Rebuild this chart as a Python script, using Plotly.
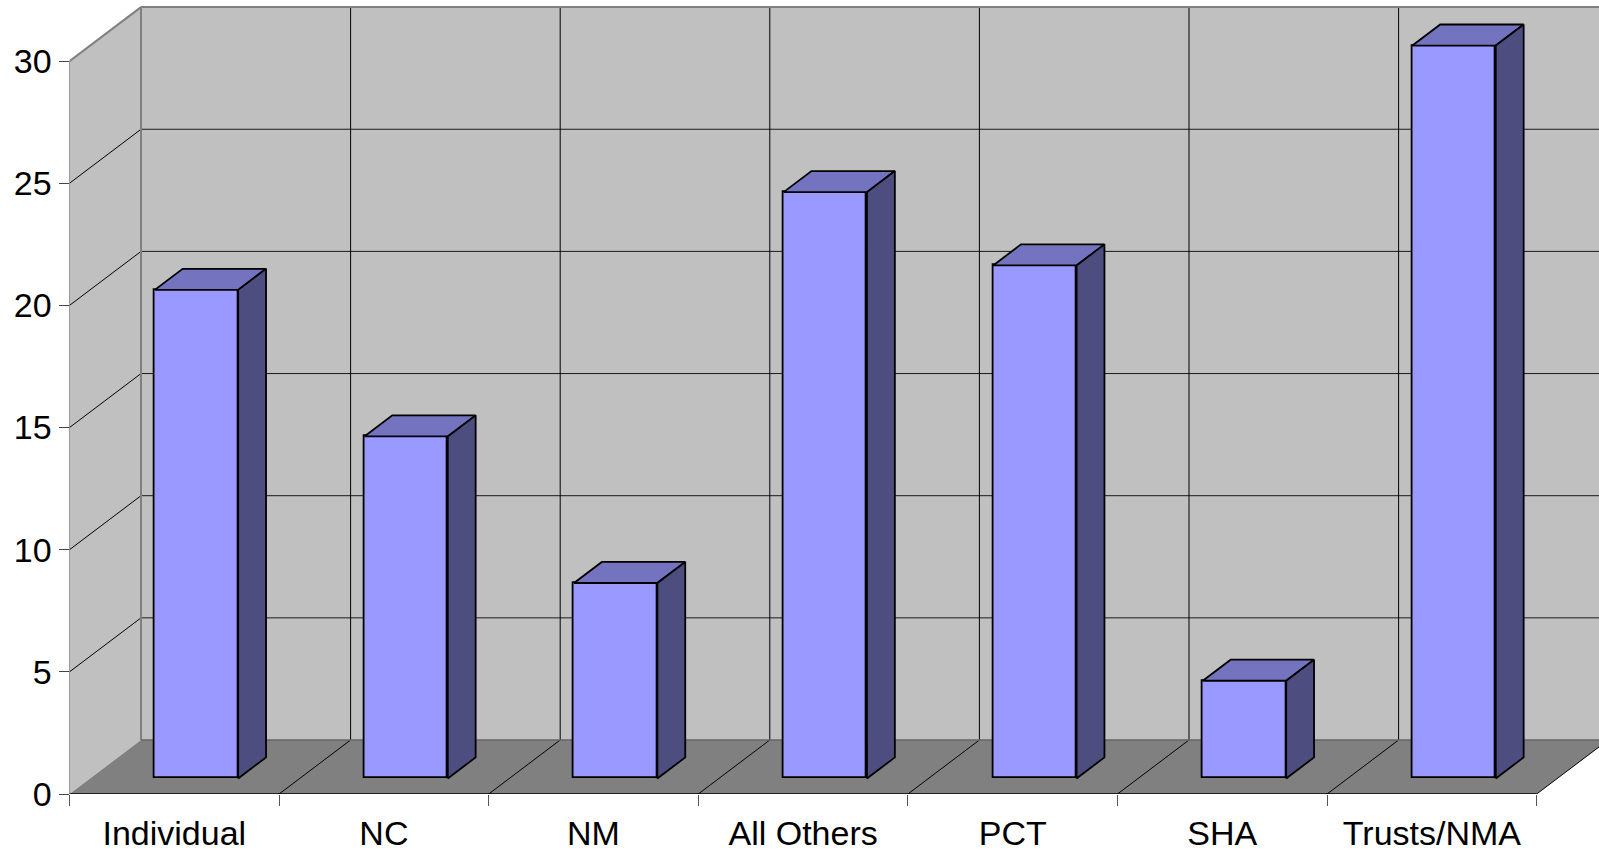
import plotly.graph_objects as go

categories = ["Individual", "NC", "NM", "All Others", "PCT", "SHA", "Trusts/NMA"]
values = [20, 14, 8, 24, 21, 4, 30]
y_ticks = [0, 5, 10, 15, 20, 25, 30]

W, H = 1599, 853
X0_PX, Y0_PX, CAT_PX, UNIT_PX = 69.5, 794.0, 209.6, 24.43
WALL_DX, WALL_DY = 71.5 / CAT_PX, 54.0 / UNIT_PX
NEAR_X, NEAR_Y, DEEP, BAR_W = 0.31, 0.288, 0.39, 83.4 / CAT_PX
n = len(categories)

FRONT, TOP, SIDE = "#9999FF", "#7373BF", "#4D4D80"
WALL, FLOOR = "#C0C0C0", "#808080"
xmax = (W - X0_PX) / CAT_PX
ymax = (Y0_PX - 6) / UNIT_PX


def poly(xs, ys, fill):
    path = "M " + " L ".join(f"{x},{y}" for x, y in zip(xs, ys)) + " Z"
    return dict(type="path", path=path, xref="x", yref="y", layer="below",
                fillcolor=fill, line=dict(color=fill, width=0))


def seg(x0, y0, x1, y1, color="#000000", width=1):
    return dict(type="line", x0=x0, y0=y0, x1=x1, y1=y1, xref="x", yref="y", layer="below",
                line=dict(color=color, width=width))


top = y_ticks[-1]
shapes = [
    poly([WALL_DX, n + WALL_DX + 1, n + WALL_DX + 1, WALL_DX],
         [WALL_DY, WALL_DY, top + WALL_DY, top + WALL_DY], WALL),
    poly([0, WALL_DX, WALL_DX, 0], [0, WALL_DY, top + WALL_DY, top], WALL),
    poly([0, n, n + WALL_DX, WALL_DX], [0, 0, WALL_DY, WALL_DY], FLOOR),
]
for t in y_ticks[1:-1]:
    shapes.append(seg(0, t, WALL_DX, t + WALL_DY))
    shapes.append(seg(WALL_DX, t + WALL_DY, xmax + 1, t + WALL_DY, "#1a1a1a"))
for i in range(1, n):
    shapes.append(seg(i + WALL_DX, WALL_DY, i + WALL_DX, top + WALL_DY))
    shapes.append(seg(i, 0, i + WALL_DX, WALL_DY))
shapes += [
    seg(WALL_DX, WALL_DY, WALL_DX, top + WALL_DY, FLOOR, 2),
    seg(WALL_DX, top + WALL_DY, xmax + 1, top + WALL_DY, FLOOR, 2),
    seg(0, top, WALL_DX, top + WALL_DY, FLOOR, 2),
    seg(WALL_DX, WALL_DY, xmax + 1, WALL_DY, "#666666", 1.5),
    seg(0, 0, 0, top, "#444444", 1),
    seg(0, 0, n, 0, "#000000", 1.5),
    seg(n, 0, n + WALL_DX, WALL_DY, "#000000", 1),
]

base = NEAR_Y * WALL_DY
shift = NEAR_X * WALL_DX
bar_dx, bar_dy = DEEP * WALL_DX, DEEP * WALL_DY
centers = [i + 0.5 + shift for i in range(n)]
EDGE = dict(color="#000000", width=1.8)

fig = go.Figure()
fig.add_trace(go.Bar(x=centers, y=values, base=[base] * n, width=BAR_W,
                     marker=dict(color=FRONT, line=EDGE),
                     customdata=categories, hovertemplate="%{customdata}: %{y}<extra></extra>"))

for c, v in zip(centers, values):
    l, r = c - BAR_W / 2, c + BAR_W / 2
    t = base + v
    fig.add_trace(go.Scatter(x=[l, r, r + bar_dx, l + bar_dx, l], y=[t, t, t + bar_dy, t + bar_dy, t],
                             mode="lines", fill="toself", fillcolor=TOP,
                             line=EDGE, hoverinfo="skip"))
    fig.add_trace(go.Scatter(x=[r, r + bar_dx, r + bar_dx, r, r],
                             y=[base, base + bar_dy, t + bar_dy, t, base],
                             mode="lines", fill="toself", fillcolor=SIDE,
                             line=EDGE, hoverinfo="skip"))

font = dict(family="Liberation Sans, Arial, sans-serif", size=34, color="#000000")
fig.update_layout(
    width=W, height=H, autosize=False,
    margin=dict(l=0, r=0, t=0, b=0),
    paper_bgcolor="#FFFFFF", plot_bgcolor="#FFFFFF",
    showlegend=False, bargap=0, shapes=shapes,
    xaxis=dict(domain=[X0_PX / W, 1], range=[0, xmax], showgrid=False, zeroline=False, showline=False,
               automargin=False, tickmode="array", tickvals=[i + 0.5 for i in range(n)], ticktext=categories,
               ticks="", tickfont=font, ticklabelstandoff=16,
               minor=dict(tickmode="array", tickvals=list(range(n + 1)), ticks="outside",
                          ticklen=11, tickwidth=1, tickcolor="#555555", showgrid=False)),
    yaxis=dict(domain=[(H - Y0_PX) / H, 1 - 6 / H], range=[0, ymax], showgrid=False, zeroline=False,
               automargin=False, showline=False, tickmode="array", tickvals=y_ticks,
               ticktext=[str(t) for t in y_ticks],
               ticks="outside", ticklen=10, tickwidth=1, tickcolor="#444444", tickfont=font),
)
fig.write_html("out.html", config={"displayModeBar": False},
               post_script="document.body.style.margin='0';document.body.style.overflow='hidden';")
